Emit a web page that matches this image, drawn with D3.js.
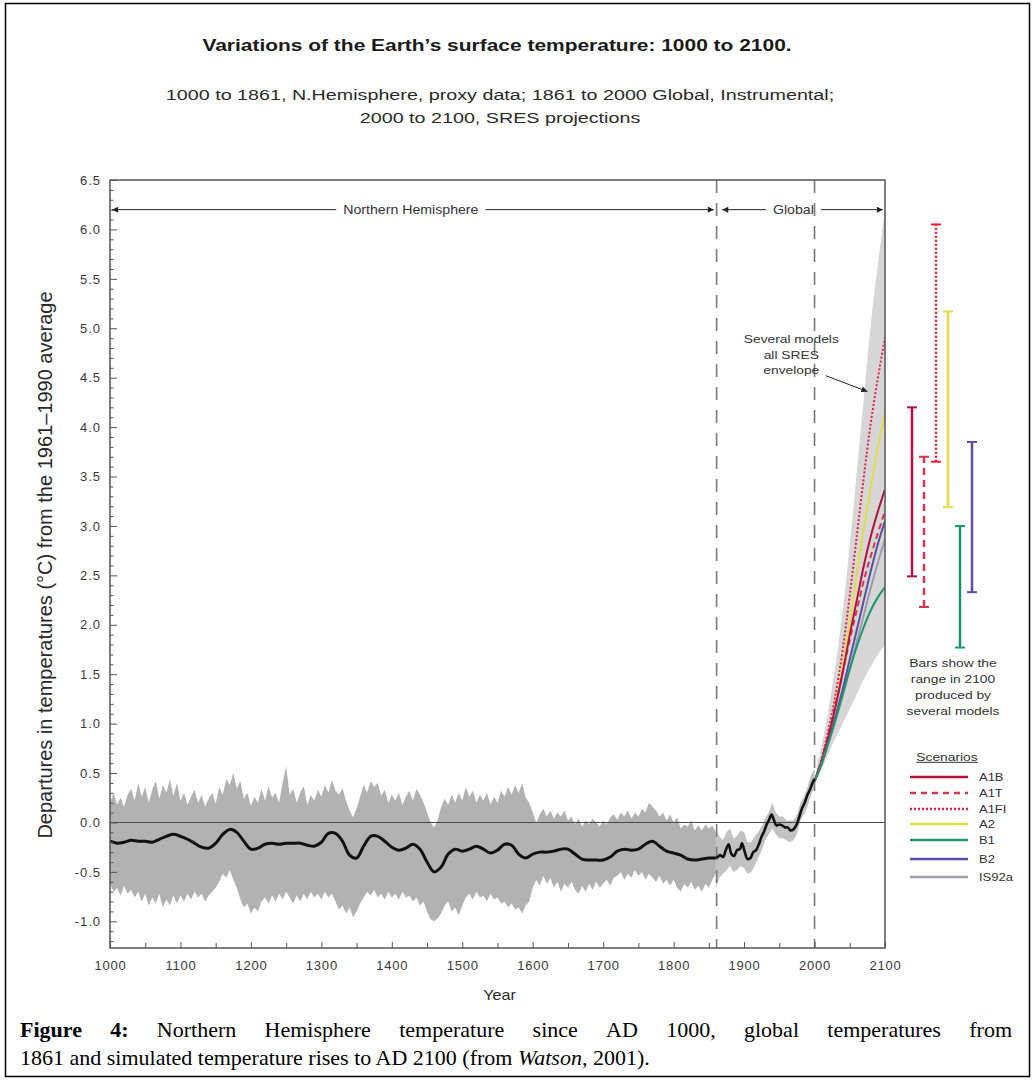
<!DOCTYPE html>
<html>
<head>
<meta charset="utf-8">
<script src="https://cdn.jsdelivr.net/npm/d3@7"></script>
<style>
  html, body { margin: 0; padding: 0; background: #fff; }
  svg { display: block; }
</style>
</head>
<body>
<div id="chart"></div>
<script>
// ---------------------------------------------------------------
// Data
// ---------------------------------------------------------------

// Axis ticks
const xLabelYears = d3.range(1000, 2101, 100);
const xMinorYears = d3.range(1050, 2100, 100);
const yMajorTicks = [-1.0, -0.5, 0.0, 0.5, 1.0, 1.5, 2.0, 2.5, 3.0, 3.5, 4.0, 4.5, 5.0, 5.5, 6.0, 6.5];

// Northern Hemisphere proxy reconstruction, 1000-1860: uncertainty band (5-year steps)
const proxyBandYears = d3.range(1000, 1861, 5);
const proxyUpper = [
  0.20, 0.30, 0.18, 0.25, 0.16, 0.28, 0.34, 0.22, 0.40, 0.26, 0.36, 0.20, 0.33, 0.42, 0.24, 0.38, 0.30, 0.44, 0.27, 0.40,
  0.22, 0.30, 0.18, 0.26, 0.33, 0.20, 0.28, 0.16, 0.24, 0.30, 0.19, 0.36, 0.28, 0.44, 0.38, 0.50, 0.34, 0.42, 0.24, 0.30,
  0.17, 0.26, 0.20, 0.34, 0.22, 0.37, 0.25, 0.30, 0.20, 0.40, 0.57, 0.28, 0.34, 0.20, 0.30, 0.37, 0.18, 0.28, 0.22, 0.33,
  0.26, 0.38, 0.30, 0.43, 0.32, 0.28, 0.35, 0.22, 0.12, 0.05, 0.14, 0.26, 0.38, 0.30, 0.42, 0.36, 0.40, 0.27, 0.33, 0.20,
  0.28, 0.22, 0.30, 0.18, 0.26, 0.32, 0.22, 0.34, 0.28, 0.20, 0.10, 0.00, -0.05, 0.02, 0.16, 0.24, 0.18, 0.28, 0.20, 0.30,
  0.22, 0.36, 0.26, 0.32, 0.20, 0.28, 0.22, 0.30, 0.18, 0.26, 0.20, 0.32, 0.26, 0.36, 0.28, 0.38, 0.30, 0.40, 0.25, 0.20,
  0.10, 0.00, 0.08, 0.14, 0.06, 0.12, 0.04, 0.10, 0.06, 0.12, 0.02, 0.06, -0.02, 0.04, -0.04, 0.02, -0.02, 0.04, 0.00, -0.04,
  0.02, -0.02, 0.05, 0.08, 0.03, 0.10, 0.06, 0.12, 0.04, 0.10, 0.06, 0.14, 0.10, 0.20, 0.16, 0.12, 0.06, 0.10, 0.02, 0.08,
  0.00, 0.05, -0.06, -0.02, -0.04, 0.02, -0.08, -0.03, -0.08, -0.02, -0.06, -0.03, -0.10
];
const proxyLower = [
  -0.62, -0.70, -0.66, -0.74, -0.64, -0.72, -0.68, -0.76, -0.70, -0.80, -0.72, -0.84, -0.76, -0.82, -0.72, -0.86, -0.78, -0.84, -0.74, -0.82,
  -0.74, -0.80, -0.72, -0.78, -0.70, -0.76, -0.72, -0.80, -0.74, -0.70, -0.66, -0.60, -0.52, -0.56, -0.48, -0.58, -0.66, -0.78, -0.86, -0.82,
  -0.92, -0.86, -0.90, -0.80, -0.76, -0.82, -0.74, -0.80, -0.72, -0.78, -0.70, -0.76, -0.82, -0.74, -0.80, -0.72, -0.78, -0.70, -0.76, -0.72,
  -0.78, -0.70, -0.76, -0.72, -0.80, -0.88, -0.84, -0.92, -0.86, -0.96, -0.90, -0.82, -0.76, -0.70, -0.74, -0.68, -0.76, -0.72, -0.78, -0.70,
  -0.76, -0.72, -0.78, -0.70, -0.76, -0.74, -0.80, -0.76, -0.84, -0.80, -0.90, -0.98, -1.00, -0.97, -0.92, -0.84, -0.80, -0.90, -0.86, -0.94,
  -0.84, -0.76, -0.72, -0.78, -0.70, -0.76, -0.74, -0.80, -0.72, -0.78, -0.76, -0.82, -0.80, -0.86, -0.82, -0.88, -0.86, -0.92, -0.84, -0.80,
  -0.66, -0.58, -0.64, -0.54, -0.62, -0.56, -0.66, -0.60, -0.70, -0.62, -0.66, -0.60, -0.68, -0.72, -0.64, -0.70, -0.62, -0.68, -0.60, -0.66,
  -0.62, -0.58, -0.64, -0.56, -0.54, -0.50, -0.58, -0.52, -0.56, -0.48, -0.54, -0.50, -0.58, -0.52, -0.56, -0.60, -0.54, -0.62, -0.58, -0.64,
  -0.58, -0.66, -0.70, -0.62, -0.66, -0.60, -0.68, -0.64, -0.70, -0.62, -0.66, -0.58, -0.52
];

// Northern Hemisphere proxy reconstruction, 40-year smoothed (10-year steps)
const proxySmoothYears = d3.range(1000, 1861, 10);
const proxySmooth = [
  -0.19, -0.21, -0.20, -0.18, -0.19, -0.19, -0.20, -0.17, -0.14, -0.12,
  -0.14, -0.17, -0.21, -0.25, -0.26, -0.21, -0.12, -0.07, -0.10, -0.19,
  -0.27, -0.26, -0.22, -0.21, -0.22, -0.21, -0.21, -0.21, -0.23, -0.24,
  -0.20, -0.11, -0.11, -0.19, -0.33, -0.36, -0.24, -0.14, -0.14, -0.19,
  -0.25, -0.28, -0.26, -0.22, -0.27, -0.40, -0.50, -0.45, -0.32, -0.27,
  -0.29, -0.27, -0.24, -0.27, -0.31, -0.28, -0.22, -0.23, -0.32, -0.36,
  -0.32, -0.30, -0.30, -0.29, -0.27, -0.27, -0.32, -0.37, -0.38, -0.38,
  -0.38, -0.35, -0.29, -0.27, -0.28, -0.27, -0.22, -0.19, -0.24, -0.29,
  -0.31, -0.33, -0.37, -0.38, -0.37, -0.36, -0.36
];

// Global instrumental record, 1860-2000: uncertainty band (5-year steps)
const instBandYears = d3.range(1860, 2001, 5);
const instUpper = [
  -0.10, -0.14, -0.18, -0.10, -0.06, -0.16, -0.14, -0.08, -0.10, -0.20,
  -0.20, -0.14, -0.10, -0.04, 0.04, 0.10, 0.20, 0.10, 0.06, 0.06,
  0.02, 0.02, 0.02, 0.08, 0.20, 0.26, 0.36, 0.48, 0.54
];
const instLower = [
  -0.66, -0.56, -0.52, -0.48, -0.44, -0.50, -0.48, -0.44, -0.46, -0.52,
  -0.50, -0.44, -0.36, -0.28, -0.18, -0.12, -0.06, -0.12, -0.16, -0.16,
  -0.18, -0.20, -0.18, -0.12, 0.02, 0.08, 0.16, 0.28, 0.36
];

// Global instrumental record, smoothed
const instYears = [
  1861, 1866, 1870, 1874, 1878, 1882, 1886, 1890, 1894, 1897,
  1901, 1905, 1909, 1913, 1917, 1921, 1925, 1929, 1932, 1935,
  1939, 1942, 1946, 1950, 1954, 1958, 1962, 1966, 1970, 1974,
  1978, 1982, 1986, 1990, 1994, 1997, 2000
];
const instValues = [
  -0.36, -0.33, -0.35, -0.28, -0.22, -0.32, -0.34, -0.28, -0.27, -0.21,
  -0.30, -0.37, -0.36, -0.30, -0.28, -0.22, -0.14, -0.08, -0.02, 0.02,
  0.08, 0.03, -0.03, -0.02, -0.03, -0.05, -0.05, -0.08, -0.07, -0.03,
  0.05, 0.14, 0.20, 0.28, 0.34, 0.40, 0.44
];

// SRES projections 2000-2100 (10-year steps)
const projYears = d3.range(2000, 2101, 10);
const envUpper = [0.45, 0.78, 1.15, 1.60, 2.15, 2.80, 3.55, 4.30, 5.05, 5.65, 6.20];
const envLower = [0.40, 0.54, 0.70, 0.86, 1.00, 1.15, 1.30, 1.45, 1.58, 1.70, 1.80];

const scenarioNames = ["A1B", "A1T", "A1FI", "A2", "B1", "B2", "IS92a"];
const projA1FI  = [0.42, 0.65, 0.95, 1.30, 1.75, 2.30, 2.90, 3.50, 4.05, 4.50, 4.90];
const projA2    = [0.42, 0.62, 0.88, 1.20, 1.58, 2.02, 2.52, 2.98, 3.40, 3.80, 4.15];
const projA1B   = [0.42, 0.62, 0.88, 1.18, 1.52, 1.90, 2.25, 2.60, 2.90, 3.15, 3.37];
const projA1T   = [0.42, 0.63, 0.90, 1.20, 1.52, 1.85, 2.15, 2.45, 2.70, 2.93, 3.15];
const projB2    = [0.42, 0.60, 0.83, 1.08, 1.35, 1.65, 1.95, 2.25, 2.55, 2.82, 3.05];
const projIS92a = [0.42, 0.58, 0.80, 1.03, 1.28, 1.55, 1.83, 2.10, 2.38, 2.63, 2.87];
const projB1    = [0.42, 0.60, 0.82, 1.05, 1.30, 1.55, 1.78, 1.98, 2.15, 2.28, 2.38];

// Range in 2100 produced by several models
const barScenarios = ["A1B", "A1T", "A1FI", "A2", "B1", "B2"];
const barLow  = [2.49, 2.18, 3.65, 3.19, 1.77, 2.33];
const barHigh = [4.20, 3.70, 6.05, 5.17, 3.00, 3.85];

// ---------------------------------------------------------------
// Styles
// ---------------------------------------------------------------
const scenStyle = {
  "A1B":   { color: "#b3123f", dash: null },
  "A1T":   { color: "#d9344f", dash: "6,4" },
  "A1FI":  { color: "#e8203f", dash: "2,2" },
  "A2":    { color: "#e2dc48", dash: null },
  "B1":    { color: "#1c9470", dash: null },
  "B2":    { color: "#5a4fa0", dash: null },
  "IS92a": { color: "#9c9cae", dash: null }
};
const projSeries = [
  { name: "A1FI", values: projA1FI },
  { name: "A2", values: projA2 },
  { name: "IS92a", values: projIS92a },
  { name: "B2", values: projB2 },
  { name: "A1T", values: projA1T },
  { name: "A1B", values: projA1B },
  { name: "B1", values: projB1 }
];

const W = 1035, H = 1081;
const plot = { left: 110, right: 885, top: 180, bottom: 948 };
const FONT = "'Liberation Sans', Arial, Helvetica, sans-serif";
const SERIF = "'Liberation Serif', 'Times New Roman', serif";
const fmt = d3.formatLocale({ decimal: ".", thousands: ",", grouping: [3], currency: ["", ""], minus: "-" }).format(".1f");

const svg = d3.select("#chart").append("svg")
  .attr("width", W).attr("height", H)
  .style("font-family", FONT);

// text with the figure's wide lettering (horizontally stretched glyphs)
function wideText(parent, x, y, str, size, sx, anchor) {
  return parent.append("text")
    .attr("transform", `translate(${x},${y}) scale(${sx},1)`)
    .attr("text-anchor", anchor || "middle")
    .attr("font-size", size).attr("fill", "#2a2a2a")
    .text(str);
}

// outer figure frame
svg.append("rect")
  .attr("x", 5.5).attr("y", 3.5).attr("width", 1024).attr("height", 1073)
  .attr("fill", "none").attr("stroke", "#000").attr("stroke-width", 1.5);

const x = d3.scaleLinear().domain([1000, 2100]).range([plot.left, plot.right]);
const y = d3.scaleLinear().domain([-1.27, 6.5]).range([plot.bottom, plot.top]);

const defs = svg.append("defs");
defs.append("clipPath").attr("id", "plotClip")
  .append("rect")
  .attr("x", plot.left).attr("y", plot.top)
  .attr("width", plot.right - plot.left).attr("height", plot.bottom - plot.top);
defs.append("marker").attr("id", "arrowHead")
  .attr("viewBox", "0 0 10 10").attr("refX", 10).attr("refY", 5)
  .attr("markerWidth", 11).attr("markerHeight", 6).attr("markerUnits", "userSpaceOnUse")
  .attr("orient", "auto-start-reverse")
  .append("path").attr("d", "M0,0 L10,5 L0,10 Z").attr("fill", "#222");

// ---------------------------------------------------------------
// Title
// ---------------------------------------------------------------
wideText(svg, 497, 51, "Variations of the Earth\u2019s surface temperature: 1000 to 2100.", 16.5, 1.27)
  .attr("font-weight", "bold").attr("fill", "#1a1a1a");
wideText(svg, 500, 100, "1000 to 1861, N.Hemisphere, proxy data; 1861 to 2000 Global, Instrumental;", 14.5, 1.36);
wideText(svg, 500, 123, "2000 to 2100, SRES projections", 14.5, 1.36);

// ---------------------------------------------------------------
// Plot contents
// ---------------------------------------------------------------
const g = svg.append("g").attr("clip-path", "url(#plotClip)");

// proxy uncertainty band
const proxyBand = proxyBandYears.map((yr, i) => ({ yr, lo: proxyLower[i], hi: proxyUpper[i] }));
g.append("path").datum(proxyBand)
  .attr("fill", "#b2b2b2")
  .attr("d", d3.area().x(d => x(d.yr)).y0(d => y(d.lo)).y1(d => y(d.hi)));

// instrumental uncertainty band
const instBand = instBandYears.map((yr, i) => ({ yr, lo: instLower[i], hi: instUpper[i] }));
g.append("path").datum(instBand)
  .attr("fill", "#c2c2c2")
  .attr("d", d3.area().x(d => x(d.yr)).y0(d => y(d.lo)).y1(d => y(d.hi)));

// SRES envelope
const env = projYears.map((yr, i) => ({ yr, lo: envLower[i], hi: envUpper[i] }));
g.append("path").datum(env)
  .attr("fill", "#d6d6d6")
  .attr("d", d3.area().curve(d3.curveMonotoneX).x(d => x(d.yr)).y0(d => y(d.lo)).y1(d => y(d.hi)));

// zero line
g.append("line")
  .attr("x1", plot.left).attr("x2", plot.right)
  .attr("y1", y(0)).attr("y2", y(0))
  .attr("stroke", "#4a4a4a").attr("stroke-width", 1);

// period boundaries
[1861, 2000].forEach(yr => {
  g.append("line")
    .attr("x1", x(yr)).attr("x2", x(yr))
    .attr("y1", plot.top).attr("y2", plot.bottom)
    .attr("stroke", "#7a7a7a").attr("stroke-width", 1.6)
    .attr("stroke-dasharray", "13,10");
});

// scenario projections
const projLine = d3.line().curve(d3.curveMonotoneX).x((d, i) => x(projYears[i])).y(d => y(d));
projSeries.forEach(s => {
  const st = scenStyle[s.name];
  g.append("path").datum(s.values)
    .attr("fill", "none")
    .attr("stroke", st.color).attr("stroke-width", 2)
    .attr("stroke-dasharray", st.dash)
    .attr("d", projLine);
});

// smoothed proxy + instrumental curve
const smoothLine = d3.line().curve(d3.curveCatmullRom.alpha(0.5)).x(d => x(d[0])).y(d => y(d[1]));
g.append("path").datum(proxySmoothYears.map((yr, i) => [yr, proxySmooth[i]]))
  .attr("fill", "none").attr("stroke", "#111").attr("stroke-width", 3)
  .attr("d", smoothLine);
g.append("path").datum(instYears.map((yr, i) => [yr, instValues[i]]))
  .attr("fill", "none").attr("stroke", "#111").attr("stroke-width", 2.6)
  .attr("stroke-linejoin", "round")
  .attr("d", smoothLine);

// ---------------------------------------------------------------
// Axes and frame
// ---------------------------------------------------------------
const yMinor = d3.range(-12, 65).map(v => v / 10).filter(v => Math.abs(v * 2 - Math.round(v * 2)) > 1e-6);
svg.append("g").attr("transform", `translate(${plot.left},0)`)
  .call(d3.axisLeft(y).tickValues(yMinor).tickSizeInner(-3.5).tickSizeOuter(0).tickFormat(""))
  .call(a => a.select(".domain").remove())
  .call(a => a.selectAll("line").attr("stroke", "#555"));
svg.append("g").attr("transform", `translate(${plot.left},0)`)
  .call(d3.axisLeft(y).tickValues(yMajorTicks).tickSizeInner(-7).tickSizeOuter(0).tickPadding(9).tickFormat(fmt))
  .call(a => a.select(".domain").remove())
  .call(a => a.selectAll("line").attr("stroke", "#555"))
  .call(a => a.selectAll("text").attr("font-size", 13).attr("letter-spacing", 1)
    .attr("fill", "#3a3a3a").attr("font-family", FONT));

svg.append("g").attr("transform", `translate(0,${plot.bottom})`)
  .call(d3.axisBottom(x).tickValues(xMinorYears).tickSizeInner(-5).tickSizeOuter(0).tickFormat(""))
  .call(a => a.select(".domain").remove())
  .call(a => a.selectAll("line").attr("stroke", "#555"));
svg.append("g").attr("transform", `translate(0,${plot.bottom})`)
  .call(d3.axisBottom(x).tickValues(xLabelYears).tickSizeInner(-6).tickSizeOuter(0).tickPadding(13).tickFormat(d3.format("d")))
  .call(a => a.select(".domain").remove())
  .call(a => a.selectAll("line").attr("stroke", "#555"))
  .call(a => a.selectAll("text").attr("font-size", 13).attr("letter-spacing", 0.8)
    .attr("fill", "#3a3a3a").attr("font-family", FONT));

svg.append("rect")
  .attr("x", plot.left).attr("y", plot.top)
  .attr("width", plot.right - plot.left).attr("height", plot.bottom - plot.top)
  .attr("fill", "none").attr("stroke", "#555").attr("stroke-width", 1.5);

// axis titles
svg.append("text")
  .attr("transform", "translate(52,565) rotate(-90)")
  .attr("text-anchor", "middle").attr("font-size", 20).attr("fill", "#2a2a2a")
  .text("Departures in temperatures (\u00B0C) from the 1961\u20131990 average");
wideText(svg, (plot.left + plot.right) / 2 + 2, 1000, "Year", 14, 1.15);

// ---------------------------------------------------------------
// Period annotations
// ---------------------------------------------------------------
function spanArrow(yPos, x0, x1, label, cx) {
  const grp = svg.append("g");
  const t = wideText(grp, cx, yPos + 4, label, 12, 1.18).attr("fill", "#333");
  const half = t.node().getComputedTextLength() * 1.18 / 2 + 7;
  grp.append("line").attr("x1", cx - half).attr("x2", x0).attr("y1", yPos).attr("y2", yPos)
    .attr("stroke", "#222").attr("stroke-width", 1).attr("marker-end", "url(#arrowHead)");
  grp.append("line").attr("x1", cx + half).attr("x2", x1).attr("y1", yPos).attr("y2", yPos)
    .attr("stroke", "#222").attr("stroke-width", 1).attr("marker-end", "url(#arrowHead)");
}
spanArrow(y(6.2), x(1003), x(1857), "Northern Hemisphere", x(1427));
spanArrow(y(6.2), x(1869), x(2097), "Global", x(1970));

// envelope note
const noteG = svg.append("g");
["Several models", "all SRES", "envelope"].forEach((s, i) => {
  wideText(noteG, x(1967), y(4.85) + i * 15.5, s, 10, 1.38).attr("fill", "#333");
});
noteG.append("line")
  .attr("x1", x(2016)).attr("y1", y(4.52))
  .attr("x2", x(2075)).attr("y2", y(4.36))
  .attr("stroke", "#222").attr("stroke-width", 1).attr("marker-end", "url(#arrowHead)");

// ---------------------------------------------------------------
// 2100 range bars
// ---------------------------------------------------------------
const xb = d3.scalePoint().domain(barScenarios).range([912, 972]);
barScenarios.forEach((name, i) => {
  const st = scenStyle[name];
  const bx = xb(name);
  const bar = svg.append("g");
  bar.append("line")
    .attr("x1", bx).attr("x2", bx).attr("y1", y(barLow[i])).attr("y2", y(barHigh[i]))
    .attr("stroke", st.color).attr("stroke-width", 2.5)
    .attr("stroke-dasharray", st.dash === "6,4" ? "7,5" : st.dash);
  [barLow[i], barHigh[i]].forEach(v => {
    bar.append("line")
      .attr("x1", bx - 5).attr("x2", bx + 5).attr("y1", y(v)).attr("y2", y(v))
      .attr("stroke", st.color).attr("stroke-width", 2);
  });
});

["Bars show the", "range in 2100", "produced by", "several models"].forEach((s, i) => {
  wideText(svg, 953, 667 + i * 16, s, 10, 1.38).attr("fill", "#333");
});

// ---------------------------------------------------------------
// Legend
// ---------------------------------------------------------------
wideText(svg, 947, 761, "Scenarios", 10, 1.38)
  .attr("fill", "#333").attr("text-decoration", "underline");
const legendY = [777, 793, 809, 824, 840, 859, 877];
scenarioNames.forEach((name, i) => {
  const st = scenStyle[name];
  svg.append("line")
    .attr("x1", 910).attr("x2", 968).attr("y1", legendY[i]).attr("y2", legendY[i])
    .attr("stroke", st.color).attr("stroke-width", 2.5)
    .attr("stroke-dasharray", st.dash === "6,4" ? "6,5" : st.dash);
  wideText(svg, 979, legendY[i] + 4, name, 10, 1.3, "start").attr("fill", "#333");
});

// ---------------------------------------------------------------
// Caption (first line justified word by word)
// ---------------------------------------------------------------
const capSize = 22;
const line1 = [
  { w: "Figure", b: true }, { w: "4:", b: true },
  ..."Northern Hemisphere temperature since AD 1000, global temperatures from".split(" ").map(w => ({ w, b: false }))
];
const capLeft = 20, capRight = 1012;
const capWords = line1.map(d => svg.append("text")
  .attr("y", 1037)
  .attr("font-family", SERIF).attr("font-size", capSize)
  .attr("font-weight", d.b ? "bold" : "normal").attr("fill", "#000")
  .text(d.w));
const widths = capWords.map(t => t.node().getComputedTextLength());
const gap = (capRight - capLeft - d3.sum(widths)) / (capWords.length - 1);
let cursor = capLeft;
capWords.forEach((t, i) => { t.attr("x", cursor); cursor += widths[i] + gap; });

const cap2 = svg.append("text").attr("x", capLeft).attr("y", 1065)
  .attr("font-family", SERIF).attr("font-size", capSize).attr("fill", "#000");
cap2.append("tspan").text("1861 and simulated temperature rises to AD 2100 (from ");
cap2.append("tspan").attr("font-style", "italic").text("Watson");
cap2.append("tspan").text(", 2001).");
</script>
</body>
</html>
